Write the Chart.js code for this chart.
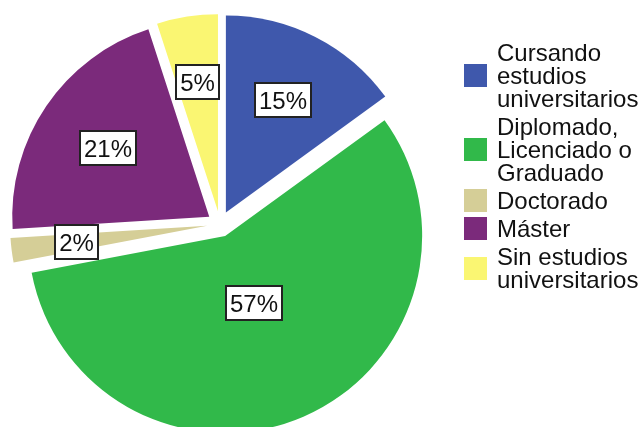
<!DOCTYPE html>
<html>
<head>
<meta charset="utf-8">
<script src="https://cdn.jsdelivr.net/npm/chart.js@4.4.1/dist/chart.umd.min.js"></script>
<style>
  body { margin: 0; background: #fff; }
  #wrap { width: 644px; height: 427px; overflow: hidden; }
  #chart { display: block; }
</style>
</head>
<body>
<div id="wrap"><canvas id="chart" width="644" height="448"></canvas></div>
<script>
const categories = [
  ['Cursando', 'estudios', 'universitarios'],
  ['Diplomado,', 'Licenciado o', 'Graduado'],
  ['Doctorado'],
  ['Máster'],
  ['Sin estudios', 'universitarios']
];
const percentages = [15, 57, 2, 21, 5];
const sliceColors = ['#3f58ac', '#31b94a', '#d5ce97', '#7b2a7b', '#faf672'];

const FONT = '24px "Liberation Sans", Arial, sans-serif';

// every slice pulled away from the centre along its own mid angle
const explodePlugin = {
  id: 'explode',
  beforeDatasetDraw(chart, args, opts) {
    const ctx = chart.ctx;
    args.meta.data.forEach(arc => {
      const mid = (arc.startAngle + arc.endAngle) / 2;
      ctx.save();
      ctx.translate(Math.cos(mid) * opts.distance, Math.sin(mid) * opts.distance);
      arc.draw(ctx);
      ctx.restore();
    });
    return false;
  }
};

// boxed percentage inside each slice
const sliceLabels = {
  id: 'sliceLabels',
  afterDatasetsDraw(chart, args, opts) {
    const ctx = chart.ctx;
    const meta = chart.getDatasetMeta(0);
    const data = chart.data.datasets[0].data;
    const total = data.reduce((a, b) => a + b, 0);
    ctx.save();
    ctx.font = FONT;
    ctx.textAlign = 'center';
    ctx.textBaseline = 'alphabetic';
    meta.data.forEach((arc, i) => {
      const mid = (arc.startAngle + arc.endAngle) / 2;
      const r = opts.explode + arc.outerRadius * opts.radial[i];
      const x = arc.x + Math.cos(mid) * r;
      const y = arc.y + Math.sin(mid) * r;
      const text = Math.round(data[i] / total * 100) + '%';
      const w = Math.round(ctx.measureText(text).width + opts.padX * 2);
      const h = opts.boxHeight;
      const left = Math.round(x - w / 2);
      const top = Math.round(y - h / 2);
      ctx.fillStyle = '#fff';
      ctx.fillRect(left, top, w, h);
      ctx.lineWidth = 2;
      ctx.strokeStyle = '#222';
      ctx.strokeRect(left + 1, top + 1, w - 2, h - 2);
      ctx.fillStyle = '#111';
      ctx.fillText(text, left + w / 2, top + h / 2 + 8.5);
    });
    ctx.restore();
  }
};

// legend on the right, swatch centred on each wrapped label
const sideLegend = {
  id: 'sideLegend',
  afterDraw(chart, args, opts) {
    const ctx = chart.ctx;
    const labels = chart.data.labels;
    const colors = chart.data.datasets[0].backgroundColor;
    ctx.save();
    ctx.font = FONT;
    ctx.textAlign = 'left';
    ctx.textBaseline = 'alphabetic';
    let baseline = opts.firstBaseline;
    labels.forEach((lines, i) => {
      const first = baseline;
      const last = baseline + (lines.length - 1) * opts.lineHeight;
      const boxTop = Math.round((first + last) / 2 - 8.5 - opts.box / 2);
      ctx.fillStyle = colors[i];
      ctx.fillRect(opts.x, boxTop, opts.box, opts.box);
      ctx.fillStyle = '#111';
      lines.forEach((line, k) => {
        ctx.fillText(line, opts.textX, first + k * opts.lineHeight);
      });
      baseline = last + opts.lineHeight + opts.gap;
    });
    ctx.restore();
  }
};

new Chart(document.getElementById('chart'), {
  type: 'pie',
  data: {
    labels: categories,
    datasets: [{
      data: percentages,
      backgroundColor: sliceColors,
      borderWidth: 0,
      radius: 197
    }]
  },
  options: {
    responsive: false,
    animation: false,
    layout: { padding: { left: 0, right: 204, top: 0, bottom: 0 } },
    plugins: {
      legend: { display: false },
      tooltip: { enabled: false },
      explode: { distance: 13 },
      sliceLabels: {
        explode: 13,
        radial: [0.64, 0.37, 0.67, 0.62, 0.665],
        padX: 5,
        boxHeight: 36
      },
      sideLegend: {
        x: 464,
        textX: 497,
        box: 23,
        firstBaseline: 61,
        lineHeight: 23,
        gap: 5
      }
    }
  },
  plugins: [explodePlugin, sliceLabels, sideLegend]
});
</script>
</body>
</html>
